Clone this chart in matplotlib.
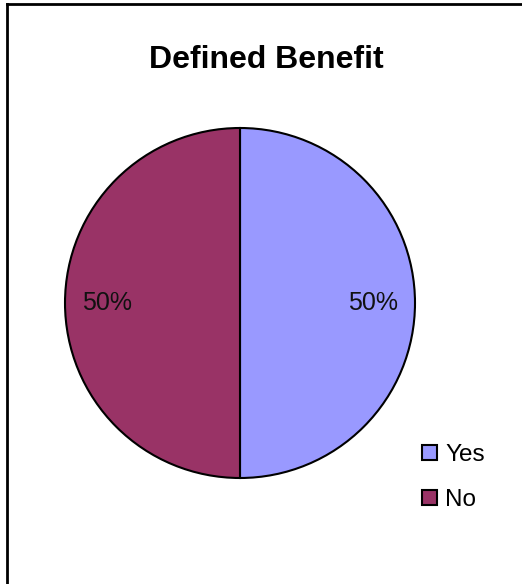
import matplotlib.pyplot as plt
from matplotlib.lines import Line2D

plt.rcParams['font.family'] = ['Liberation Sans', 'DejaVu Sans']

# --- Data ---
labels = ['Yes', 'No']
values = [50, 50]
colors = ['#9999FF', '#993366']

# --- Figure (522x584 px) ---
fig = plt.figure(figsize=(5.22, 5.84), dpi=100)

# chart frame: only left and top edges visible
fig.add_artist(Line2D([6.5 / 522, 6.5 / 522], [0, 1 - 4 / 584], color='black', lw=2))
fig.add_artist(Line2D([6.5 / 522, 1], [1 - 4 / 584, 1 - 4 / 584], color='black', lw=2))

fig.text(266 / 522, 1 - 60 / 584, 'Defined Benefit', ha='center', va='center',
         fontsize=23, fontweight='bold')

# pie centred at (240, 303), radius 175 px
ax = fig.add_axes([65 / 522, 1 - 478 / 584, 350 / 522, 350 / 584])
wedges, texts, autotexts = ax.pie(
    values, colors=colors, startangle=90, counterclock=False,
    autopct='%1.0f%%', pctdistance=0.76, radius=1,
    wedgeprops=dict(edgecolor='black', linewidth=1.5),
    textprops=dict(fontsize=18, color='#111111'))
ax.set_xlim(-1.0, 1.0)
ax.set_ylim(-1.0, 1.0)
ax.set_aspect('equal')
ax.axis('off')

fig.legend(wedges, labels, loc='upper left',
           bbox_to_anchor=(410 / 522, 1 - 432 / 584),
           frameon=False, fontsize=17.5, handlelength=0.6, handleheight=0.6,
           handletextpad=0.35, labelspacing=0.95, borderpad=0)

fig.savefig('out.png', dpi=100)
